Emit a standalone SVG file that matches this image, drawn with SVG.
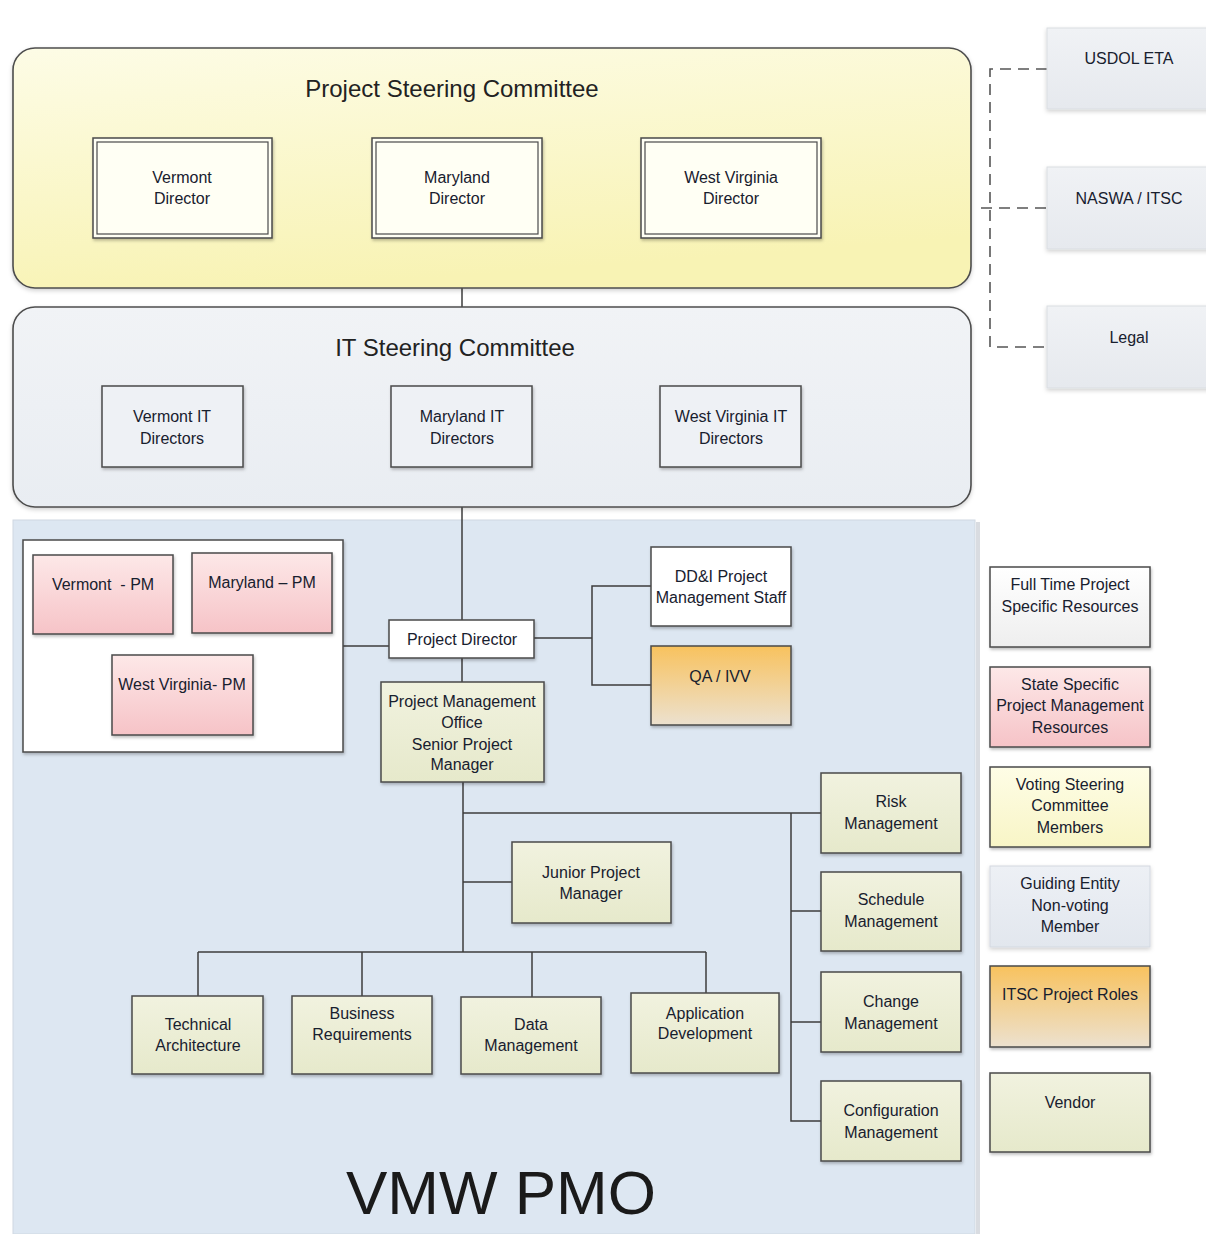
<svg xmlns="http://www.w3.org/2000/svg" width="1206" height="1234" viewBox="0 0 1206 1234">
<defs>
<linearGradient id="gYel" x1="0" y1="0" x2="0.3" y2="1"><stop offset="0" stop-color="#fdfce6"/><stop offset="1" stop-color="#f8f3b4"/></linearGradient>
<linearGradient id="gIT" x1="0" y1="0" x2="0" y2="1"><stop offset="0" stop-color="#f1f3f6"/><stop offset="1" stop-color="#e9edf2"/></linearGradient>
<linearGradient id="gPink" x1="0" y1="0" x2="0" y2="1"><stop offset="0" stop-color="#fde8e8"/><stop offset="1" stop-color="#f6c3c7"/></linearGradient>
<linearGradient id="gOrange" x1="0" y1="0" x2="0" y2="1"><stop offset="0" stop-color="#f8c25e"/><stop offset="1" stop-color="#ece1cf"/></linearGradient>
<linearGradient id="gGreen" x1="0" y1="0" x2="0" y2="1"><stop offset="0" stop-color="#f1f2df"/><stop offset="1" stop-color="#e6e9cb"/></linearGradient>
<linearGradient id="gWhite" x1="0" y1="0" x2="0" y2="1"><stop offset="0" stop-color="#ffffff"/><stop offset="1" stop-color="#eeeeee"/></linearGradient>
<linearGradient id="gVote" x1="0" y1="0" x2="0" y2="1"><stop offset="0" stop-color="#fefde6"/><stop offset="1" stop-color="#f8f5c6"/></linearGradient>
<linearGradient id="gGuide" x1="0" y1="0" x2="0" y2="1"><stop offset="0" stop-color="#edf0f5"/><stop offset="1" stop-color="#e2e7ee"/></linearGradient>
<linearGradient id="gExt" x1="0" y1="0" x2="0" y2="1"><stop offset="0" stop-color="#f0f2f5"/><stop offset="1" stop-color="#e6e9ee"/></linearGradient>
<filter id="sh" x="-10%" y="-10%" width="130%" height="130%"><feDropShadow dx="1" dy="2" stdDeviation="1.5" flood-color="#000" flood-opacity="0.25"/></filter>
<filter id="shSoft" x="-10%" y="-10%" width="130%" height="130%"><feDropShadow dx="0" dy="2" stdDeviation="2" flood-color="#000" flood-opacity="0.18"/></filter>
</defs>
<style>
.t { font-family: "Liberation Sans", Arial, sans-serif; font-size: 16px; fill: #18202e; text-anchor: middle; white-space: pre; }
.title { font-family: "Liberation Sans", Arial, sans-serif; font-size: 24px; fill: #222222; text-anchor: middle; }
.box { stroke: #4a4a4a; stroke-width: 1.5; }
.conn { stroke: #3c3c3c; stroke-width: 1.5; fill: none; }
.dash { stroke: #555555; stroke-width: 1.6; stroke-dasharray: 11 7; fill: none; }
</style>
<rect width="1206" height="1234" fill="#ffffff"/>

<!-- PMO background -->
<g id="vmw-pmo">
<rect x="976" y="522" width="4" height="712" fill="#d9dce1"/>
<rect x="13" y="520" width="962" height="714" fill="#dde7f2" stroke="#cfd8e2" stroke-width="1"/>
<text x="501" y="1214" style="font-family:'Liberation Sans', Arial, sans-serif; font-size:62px; fill:#1a1a1a; text-anchor:middle">VMW PMO</text>
</g>

<!-- connectors -->
<g id="connectors">
<line class="conn" x1="462" y1="288" x2="462" y2="308"/>
<line class="conn" x1="462" y1="507" x2="462" y2="620"/>
<line class="conn" x1="343" y1="646" x2="389" y2="646"/>
<line class="conn" x1="462" y1="658" x2="462" y2="682"/>
<polyline class="conn" points="534,638 592,638"/>
<polyline class="conn" points="651,586 592,586 592,685 651,685"/>
<line class="conn" x1="463" y1="782" x2="463" y2="952"/>
<line class="conn" x1="463" y1="813" x2="821" y2="813"/>
<line class="conn" x1="463" y1="882" x2="512" y2="882"/>
<polyline class="conn" points="791,813 791,1121 821,1121"/>
<line class="conn" x1="791" y1="911" x2="821" y2="911"/>
<line class="conn" x1="791" y1="1022" x2="821" y2="1022"/>
<line class="conn" x1="198" y1="952" x2="706" y2="952"/>
<line class="conn" x1="198" y1="952" x2="198" y2="996"/>
<line class="conn" x1="362" y1="952" x2="362" y2="996"/>
<line class="conn" x1="532" y1="952" x2="532" y2="997"/>
<line class="conn" x1="706" y1="952" x2="706" y2="993"/>
<polyline class="dash" points="1047,69 990,69 990,347 1047,347"/>
<line class="dash" x1="981" y1="208" x2="1047" y2="208"/>
</g>

<!-- Project Steering Committee -->
<g id="project-steering-committee">
<rect x="13" y="48" width="958" height="240" rx="22" fill="url(#gYel)" stroke="#4d4d4d" stroke-width="1.6" filter="url(#shSoft)"/>
<text class="title" x="452" y="97">Project Steering Committee</text>
</g>
<g id="vermont-director">
<rect x="93" y="138" width="179" height="100" fill="#fffff4" class="box" filter="url(#sh)"/>
<rect x="97" y="142" width="171" height="92" fill="none" stroke="#4a4a4a" stroke-width="1.2"/>
<text class="t" x="182" y="183">Vermont</text><text class="t" x="182" y="204">Director</text>
</g>
<g id="maryland-director">
<rect x="372" y="138" width="170" height="100" fill="#fffff4" class="box" filter="url(#sh)"/>
<rect x="376" y="142" width="162" height="92" fill="none" stroke="#4a4a4a" stroke-width="1.2"/>
<text class="t" x="457" y="183">Maryland</text><text class="t" x="457" y="204">Director</text>
</g>
<g id="west-virginia-director">
<rect x="641" y="138" width="180" height="100" fill="#fffff4" class="box" filter="url(#sh)"/>
<rect x="645" y="142" width="172" height="92" fill="none" stroke="#4a4a4a" stroke-width="1.2"/>
<text class="t" x="731" y="183">West Virginia</text><text class="t" x="731" y="204">Director</text>
</g>

<!-- IT Steering Committee -->
<g id="it-steering-committee">
<rect x="13" y="307" width="958" height="200" rx="22" fill="url(#gIT)" stroke="#4d4d4d" stroke-width="1.6" filter="url(#shSoft)"/>
<text class="title" x="455" y="356">IT Steering Committee</text>
</g>
<g id="vermont-it">
<rect x="102" y="386" width="141" height="81" fill="#eef1f5" class="box" filter="url(#sh)"/>
<text class="t" x="172" y="422">Vermont IT</text><text class="t" x="172" y="444">Directors</text>
</g>
<g id="maryland-it">
<rect x="391" y="386" width="141" height="81" fill="#eef1f5" class="box" filter="url(#sh)"/>
<text class="t" x="462" y="422">Maryland IT</text><text class="t" x="462" y="444">Directors</text>
</g>
<g id="west-virginia-it">
<rect x="660" y="386" width="141" height="81" fill="#eef1f5" class="box" filter="url(#sh)"/>
<text class="t" x="731" y="422">West Virginia IT</text><text class="t" x="731" y="444">Directors</text>
</g>

<!-- State PM container -->
<g id="state-pms">
<rect x="23" y="540" width="320" height="212" fill="#ffffff" class="box" filter="url(#sh)"/>
</g>
<g id="vermont-pm">
<rect x="33" y="555" width="140" height="79" fill="url(#gPink)" class="box" filter="url(#sh)"/>
<text class="t" x="103" y="590">Vermont  - PM</text>
</g>
<g id="maryland-pm">
<rect x="192" y="553" width="140" height="80" fill="url(#gPink)" class="box" filter="url(#sh)"/>
<text class="t" x="262" y="588">Maryland – PM</text>
</g>
<g id="west-virginia-pm">
<rect x="112" y="655" width="141" height="80" fill="url(#gPink)" class="box" filter="url(#sh)"/>
<text class="t" x="182" y="690">West Virginia- PM</text>
</g>

<g id="project-director">
<rect x="389" y="620" width="145" height="38" fill="#ffffff" class="box" filter="url(#sh)"/>
<text class="t" x="462" y="645">Project Director</text>
</g>
<g id="ddi-staff">
<rect x="651" y="547" width="140" height="79" fill="#ffffff" class="box" filter="url(#sh)"/>
<text class="t" x="721" y="582">DD&amp;I Project</text><text class="t" x="721" y="603">Management Staff</text>
</g>
<g id="qa-ivv">
<rect x="651" y="646" width="140" height="79" fill="url(#gOrange)" class="box" filter="url(#sh)"/>
<text class="t" x="720" y="682">QA / IVV</text>
</g>
<g id="pmo-senior">
<rect x="381" y="682" width="163" height="100" fill="url(#gGreen)" class="box" filter="url(#sh)"/>
<text class="t" x="462" y="707">Project Management</text><text class="t" x="462" y="728">Office</text><text class="t" x="462" y="750">Senior Project</text><text class="t" x="462" y="770">Manager</text>
</g>
<g id="junior-pm">
<rect x="512" y="842" width="159" height="81" fill="url(#gGreen)" class="box" filter="url(#sh)"/>
<text class="t" x="591" y="878">Junior Project</text><text class="t" x="591" y="899">Manager</text>
</g>
<g id="technical-architecture">
<rect x="132" y="996" width="131" height="78" fill="url(#gGreen)" class="box" filter="url(#sh)"/>
<text class="t" x="198" y="1030">Technical</text><text class="t" x="198" y="1051">Architecture</text>
</g>
<g id="business-requirements">
<rect x="292" y="996" width="140" height="78" fill="url(#gGreen)" class="box" filter="url(#sh)"/>
<text class="t" x="362" y="1019">Business</text><text class="t" x="362" y="1040">Requirements</text>
</g>
<g id="data-management">
<rect x="461" y="997" width="140" height="77" fill="url(#gGreen)" class="box" filter="url(#sh)"/>
<text class="t" x="531" y="1030">Data</text><text class="t" x="531" y="1051">Management</text>
</g>
<g id="application-development">
<rect x="631" y="993" width="148" height="80" fill="url(#gGreen)" class="box" filter="url(#sh)"/>
<text class="t" x="705" y="1019">Application</text><text class="t" x="705" y="1039">Development</text>
</g>
<g id="risk-management">
<rect x="821" y="773" width="140" height="80" fill="url(#gGreen)" class="box" filter="url(#sh)"/>
<text class="t" x="891" y="807">Risk</text><text class="t" x="891" y="829">Management</text>
</g>
<g id="schedule-management">
<rect x="821" y="872" width="140" height="79" fill="url(#gGreen)" class="box" filter="url(#sh)"/>
<text class="t" x="891" y="905">Schedule</text><text class="t" x="891" y="927">Management</text>
</g>
<g id="change-management">
<rect x="821" y="972" width="140" height="80" fill="url(#gGreen)" class="box" filter="url(#sh)"/>
<text class="t" x="891" y="1007">Change</text><text class="t" x="891" y="1029">Management</text>
</g>
<g id="configuration-management">
<rect x="821" y="1081" width="140" height="80" fill="url(#gGreen)" class="box" filter="url(#sh)"/>
<text class="t" x="891" y="1116">Configuration</text><text class="t" x="891" y="1138">Management</text>
</g>

<!-- external entities -->
<g id="usdol-eta">
<rect x="1047" y="28" width="170" height="81" fill="url(#gExt)" stroke="#dadde2" stroke-width="1" filter="url(#shSoft)"/>
<text class="t" x="1129" y="64">USDOL ETA</text>
</g>
<g id="naswa-itsc">
<rect x="1047" y="167" width="170" height="82" fill="url(#gExt)" stroke="#dadde2" stroke-width="1" filter="url(#shSoft)"/>
<text class="t" x="1129" y="204">NASWA / ITSC</text>
</g>
<g id="legal">
<rect x="1047" y="306" width="170" height="82" fill="url(#gExt)" stroke="#dadde2" stroke-width="1" filter="url(#shSoft)"/>
<text class="t" x="1129" y="343">Legal</text>
</g>

<!-- legend -->
<g id="legend-full-time">
<rect x="990" y="567" width="160" height="80" fill="url(#gWhite)" class="box" filter="url(#sh)"/>
<text class="t" x="1070" y="590">Full Time Project</text><text class="t" x="1070" y="612">Specific Resources</text>
</g>
<g id="legend-state">
<rect x="990" y="667" width="160" height="80" fill="url(#gPink)" class="box" filter="url(#sh)"/>
<text class="t" x="1070" y="690">State Specific</text><text class="t" x="1070" y="711">Project Management</text><text class="t" x="1070" y="733">Resources</text>
</g>
<g id="legend-voting">
<rect x="990" y="767" width="160" height="80" fill="url(#gVote)" class="box" filter="url(#sh)"/>
<text class="t" x="1070" y="790">Voting Steering</text><text class="t" x="1070" y="811">Committee</text><text class="t" x="1070" y="833">Members</text>
</g>
<g id="legend-guiding">
<rect x="990" y="866" width="160" height="81" fill="url(#gGuide)" stroke="#d3d8e0" stroke-width="1" filter="url(#shSoft)"/>
<text class="t" x="1070" y="889">Guiding Entity</text><text class="t" x="1070" y="911">Non-voting</text><text class="t" x="1070" y="932">Member</text>
</g>
<g id="legend-itsc">
<rect x="990" y="966" width="160" height="81" fill="url(#gOrange)" class="box" filter="url(#sh)"/>
<text class="t" x="1070" y="1000">ITSC Project Roles</text>
</g>
<g id="legend-vendor">
<rect x="990" y="1073" width="160" height="79" fill="url(#gGreen)" class="box" filter="url(#sh)"/>
<text class="t" x="1070" y="1108">Vendor</text>
</g>
</svg>
